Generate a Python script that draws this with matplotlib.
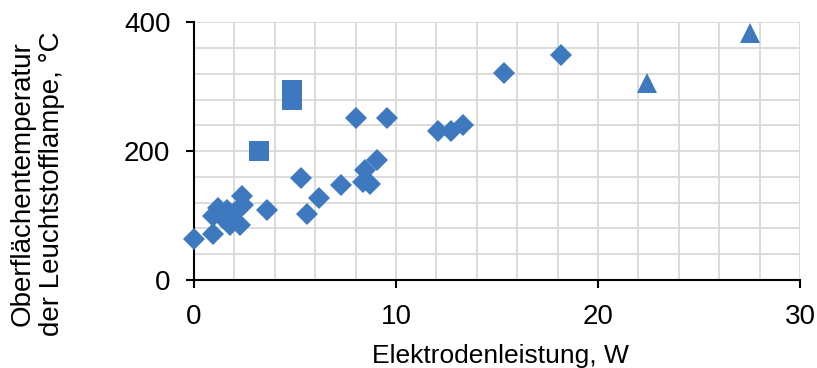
import matplotlib
matplotlib.use('Agg')
import matplotlib.pyplot as plt
import numpy as np

# data
diamond_x = [0.0, 0.95, 0.95, 1.2, 1.61, 1.45, 1.78, 2.27, 2.44, 2.36, 2.02,
             3.62, 5.32, 5.57, 6.19, 7.28, 8.0, 9.54, 8.38, 8.72, 8.47, 9.06,
             12.1, 12.7, 13.3, 15.37, 18.15]
diamond_y = [64, 72, 100, 112, 109, 97, 85, 85, 116, 131, 106,
             109, 158, 103, 127, 147, 251, 251, 152, 149, 170, 186,
             231, 231, 240, 321, 350]
square_x = [3.22, 4.87, 4.87]
square_y = [200, 280, 295]
triangle_x = [22.45, 27.5]
triangle_y = [306, 384]

x_ticks = [0, 10, 20, 30]
y_ticks = [0, 200, 400]

blue = '#3E78BF'
plt.rcParams['font.family'] = ['Liberation Sans', 'DejaVu Sans']

fig = plt.figure(figsize=(8.17, 3.68), dpi=100)
ax = fig.add_axes([194 / 817, 1 - 280 / 368, 606 / 817, 257.7 / 368])

ax.set_xlim(0, 30)
ax.set_ylim(0, 400)

# minor grid every 2 W / 40 degC like the original
ax.set_xticks(np.arange(0, 31, 2), minor=True)
ax.set_yticks(np.arange(0, 401, 40), minor=True)
ax.grid(which='both', color='#D9D9D9', linewidth=1.3, zorder=0)
ax.set_axisbelow(True)

ax.plot(diamond_x, diamond_y, 'D', color=blue, markersize=11.3, markeredgewidth=0,
        zorder=3, clip_on=False)
ax.plot(square_x, square_y, 's', color=blue, markersize=14.4, markeredgewidth=0,
        zorder=3, clip_on=False)
ax.plot(triangle_x, triangle_y, '^', color=blue, markersize=14, markeredgewidth=0,
        zorder=3, clip_on=False)

ax.set_xticks(x_ticks)
ax.set_yticks(y_ticks)
ax.tick_params(which='minor', length=0)
ax.tick_params(which='major', direction='out', length=6, width=1.5, colors='black',
               labelsize=20, pad=11)

for s in ['top', 'right']:
    ax.spines[s].set_visible(False)
for s in ['left', 'bottom']:
    ax.spines[s].set_linewidth(1.5)
    ax.spines[s].set_color('black')
    ax.spines[s].set_zorder(2.5)

fig.text(500 / 817, 1 - 356 / 368, 'Elektrodenleistung, W', fontsize=19,
         ha='center', va='center')
fig.text(37.5 / 817, 0.5, 'Oberflächentemperatur\nder Leuchtstofflampe, °C', fontsize=20,
         rotation=90, ha='center', va='center', multialignment='center', linespacing=1.2)

fig.savefig('out.png', dpi=100)
